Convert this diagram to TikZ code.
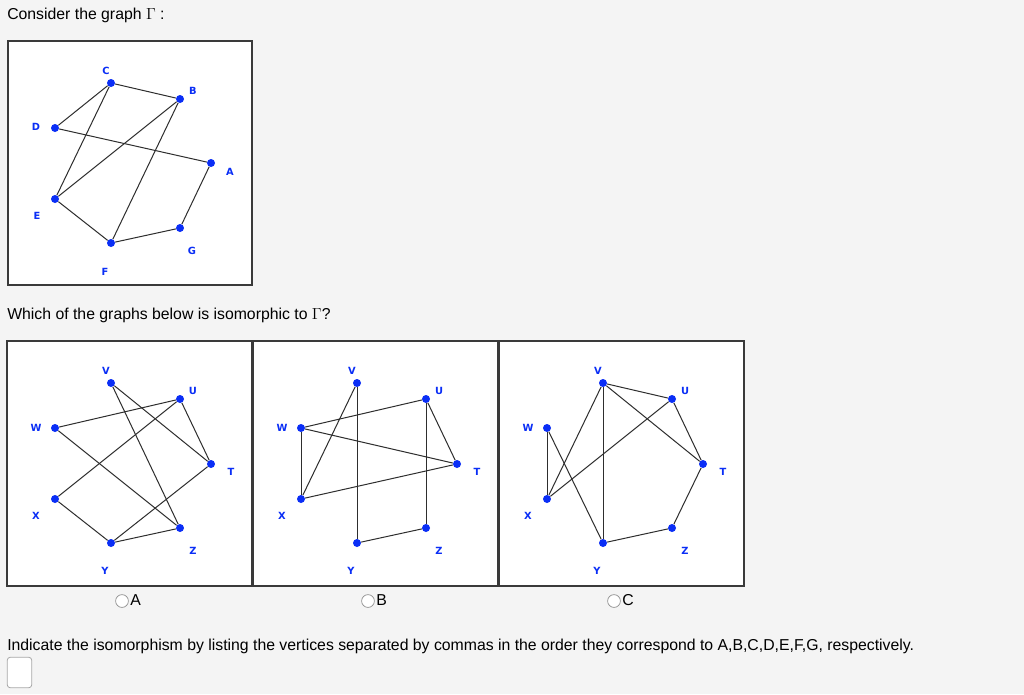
\documentclass[tikz,border=0pt]{standalone}
\usepackage{fontspec}
\setmainfont{Liberation Sans}
\setsansfont{DejaVu Sans}
\usetikzlibrary{calc}

\definecolor{pagebg}{HTML}{F4F4F4}
\definecolor{vblue}{HTML}{0A2EF6}
\definecolor{framegray}{HTML}{3A3A3A}

\begin{document}
\begin{tikzpicture}[x=0.75pt, y=-0.75pt,
  txt/.style={anchor=base west, inner sep=0pt, font=\fontsize{11.85}{14}\selectfont},
  vtx/.style={circle, fill=vblue, inner sep=0pt, minimum size=6pt},
  vlabel/.style={text=vblue, inner sep=0pt, font=\sffamily\bfseries\fontsize{7.4}{8}\selectfont},
  edge/.style={draw=black!82, line width=0.75pt},
  radio/.style={circle, draw=black!45, fill=white, line width=0.5pt, inner sep=0pt, minimum size=9.6pt}]
  \fill[pagebg] (0,0) rectangle (1024,694);
  \useasboundingbox (0,0) rectangle (1024,694);

  \node[txt] (q1) at (7,19) {Consider the graph $\Gamma$ :};
  \node[txt] (q2) at (7,319) {Which of the graphs below is isomorphic to $\Gamma$?};
  \node[txt] (q3) at (7,650) {Indicate the isomorphism by listing the vertices separated by commas in the order they correspond to A,B,C,D,E,F,G, respectively.};

  % the graph Gamma
  \draw[draw=framegray, fill=white, line width=0.9pt] (8,41) rectangle (252,285);
  \node[vtx] (C) at (111,83) {};
  \node[vtx] (B) at (180,99) {};
  \node[vtx] (D) at (55,128) {};
  \node[vtx] (A) at (211,163) {};
  \node[vtx] (E) at (55,199) {};
  \node[vtx] (G) at (180,228) {};
  \node[vtx] (F) at (111,243) {};
  \node[vlabel] (Cl) at (106,71) {C};
  \node[vlabel] (Bl) at (193,91) {B};
  \node[vlabel] (Dl) at (36,127) {D};
  \node[vlabel] (Al) at (230,172) {A};
  \node[vlabel] (El) at (37,216) {E};
  \node[vlabel] (Gl) at (192,251) {G};
  \node[vlabel] (Fl) at (105,272) {F};
  \draw[edge] (C) -- (B);
  \draw[edge] (C) -- (D);
  \draw[edge] (C) -- (E);
  \draw[edge] (B) -- (E);
  \draw[edge] (B) -- (F);
  \draw[edge] (D) -- (A);
  \draw[edge] (A) -- (G);
  \draw[edge] (G) -- (F);
  \draw[edge] (E) -- (F);

  % the three candidates, same layout shifted
  \foreach \g/\dx in {a/0, b/246, c/492} {
    \draw[draw=framegray, fill=white, line width=1.4pt] (7+\dx,341) rectangle (252+\dx,586);
    \node[vtx] (\g-V) at (111+\dx,383) {};
    \node[vtx] (\g-U) at (180+\dx,399) {};
    \node[vtx] (\g-W) at (55+\dx,428) {};
    \node[vtx] (\g-T) at (211+\dx,464) {};
    \node[vtx] (\g-X) at (55+\dx,499) {};
    \node[vtx] (\g-Z) at (180+\dx,528) {};
    \node[vtx] (\g-Y) at (111+\dx,543) {};
    \node[vlabel] (\g-Vl) at (106+\dx,371) {V};
    \node[vlabel] (\g-Ul) at (193+\dx,391) {U};
    \node[vlabel] (\g-Wl) at (36+\dx,428) {W};
    \node[vlabel] (\g-Tl) at (231+\dx,472) {T};
    \node[vlabel] (\g-Xl) at (36+\dx,516) {X};
    \node[vlabel] (\g-Zl) at (193+\dx,551) {Z};
    \node[vlabel] (\g-Yl) at (105+\dx,571) {Y};
  }
  % A
  \draw[edge] (a-V) -- (a-T);
  \draw[edge] (a-V) -- (a-Z);
  \draw[edge] (a-U) -- (a-W);
  \draw[edge] (a-U) -- (a-X);
  \draw[edge] (a-U) -- (a-T);
  \draw[edge] (a-W) -- (a-Z);
  \draw[edge] (a-X) -- (a-Y);
  \draw[edge] (a-Y) -- (a-Z);
  \draw[edge] (a-Y) -- (a-T);
  % B
  \draw[edge] (b-V) -- (b-X);
  \draw[edge] (b-V) -- (b-Y);
  \draw[edge] (b-U) -- (b-W);
  \draw[edge] (b-U) -- (b-Z);
  \draw[edge] (b-U) -- (b-T);
  \draw[edge] (b-W) -- (b-X);
  \draw[edge] (b-W) -- (b-T);
  \draw[edge] (b-X) -- (b-T);
  \draw[edge] (b-Y) -- (b-Z);
  % C
  \draw[edge] (c-V) -- (c-U);
  \draw[edge] (c-V) -- (c-T);
  \draw[edge] (c-V) -- (c-X);
  \draw[edge] (c-V) -- (c-Y);
  \draw[edge] (c-U) -- (c-X);
  \draw[edge] (c-U) -- (c-T);
  \draw[edge] (c-W) -- (c-X);
  \draw[edge] (c-W) -- (c-Y);
  \draw[edge] (c-T) -- (c-Z);
  \draw[edge] (c-Z) -- (c-Y);

  % choices
  \node[radio] (optA) at (122,601) {};
  \node[radio] (optB) at (368,601) {};
  \node[radio] (optC) at (614,601) {};
  \node[txt] (optAl) at (130,605) {A};
  \node[txt] (optBl) at (376,605) {B};
  \node[txt] (optCl) at (622,605) {C};

  % answer field
  \node[draw=black!35, fill=white, rounded corners=2.5pt, line width=0.6pt,
        minimum width=18.5pt, minimum height=23pt, inner sep=0pt] (answer) at (19.5,672.5) {};
\end{tikzpicture}
\end{document}
